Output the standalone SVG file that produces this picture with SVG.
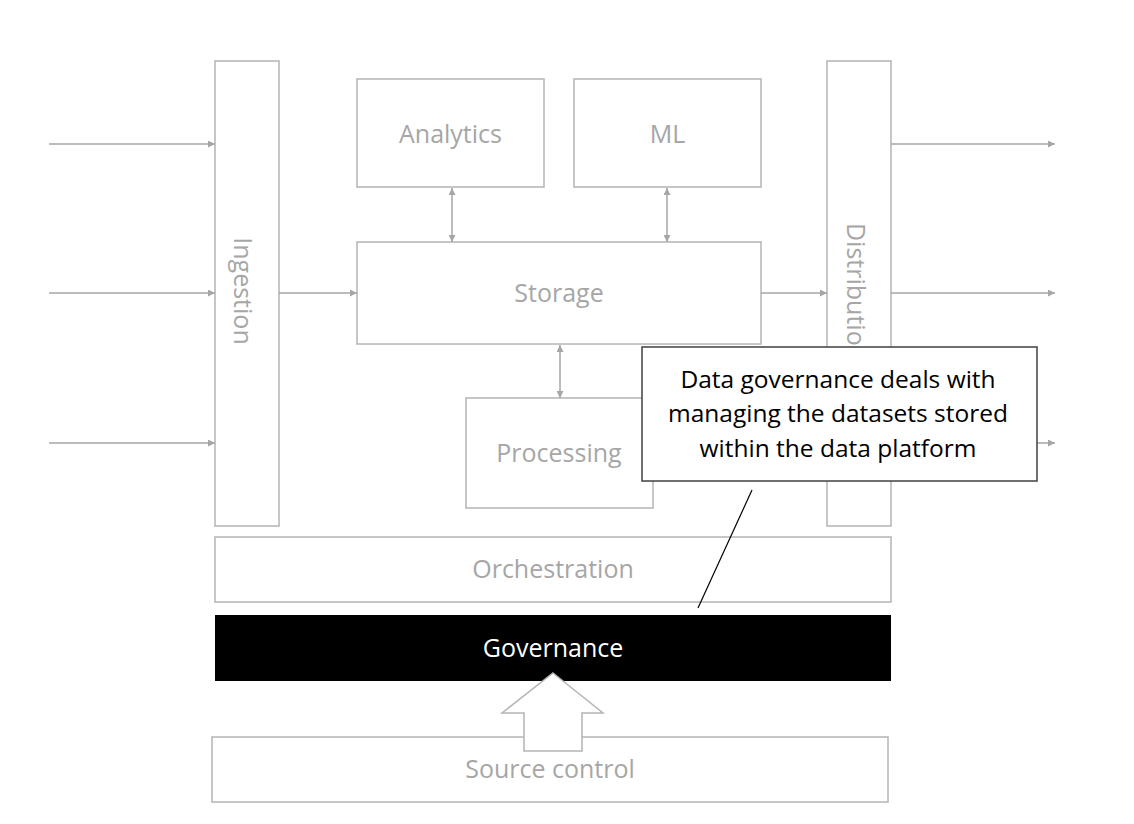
<svg xmlns="http://www.w3.org/2000/svg" width="1134" height="824" viewBox="0 0 1134 824">
<style>
.box{fill:#fff;stroke:#b4b4b4;stroke-width:1.5}
.lbl{font-family:"Open Sans","Liberation Sans",sans-serif;font-size:25px;fill:#a6a6a6;text-anchor:middle;dominant-baseline:central}
.ln{stroke:#a6a6a6;stroke-width:1.5;fill:none}
.note{font-family:"Open Sans","Liberation Sans",sans-serif;font-size:24.5px;fill:#000;text-anchor:middle}
</style>
<defs>
<marker id="ah" viewBox="0 0 10 10" refX="10" refY="5" markerWidth="7" markerHeight="7" markerUnits="userSpaceOnUse" orient="auto-start-reverse">
<path d="M0,0 L10,5 L0,10 z" fill="#a6a6a6"/>
</marker>
</defs>
<rect width="1134" height="824" fill="#fff"/>
<g id="ingestion"><rect class="box" x="215" y="61" width="64" height="465"/><text class="lbl" transform="translate(244,291) rotate(90)">Ingestion</text></g>
<g id="analytics"><rect class="box" x="357" y="79" width="187" height="108"/><text class="lbl" x="450.5" y="133">Analytics</text></g>
<g id="ml"><rect class="box" x="574" y="79" width="187" height="108"/><text class="lbl" x="667.5" y="133">ML</text></g>
<g id="storage"><rect class="box" x="357" y="242" width="404" height="102"/><text class="lbl" x="559" y="292">Storage</text></g>
<g id="processing"><rect class="box" x="466" y="398" width="187" height="110"/><text class="lbl" x="559" y="452">Processing</text></g>
<g id="distribution"><rect class="box" x="827" y="61" width="64" height="465"/><text class="lbl" transform="translate(857,292) rotate(90)">Distribution</text></g>
<g id="orchestration"><rect class="box" x="215" y="537" width="676" height="65"/><text class="lbl" x="553" y="568">Orchestration</text></g>
<g id="source-control"><rect class="box" x="212" y="737" width="676" height="65"/><text class="lbl" x="550" y="768">Source control</text></g>
<g id="governance"><rect x="215" y="615" width="676" height="66" fill="#000"/><text class="lbl" x="553" y="647" style="fill:#fff">Governance</text></g>
<g id="connectors">
<line class="ln" x1="49" y1="144" x2="215" y2="144" marker-end="url(#ah)"/>
<line class="ln" x1="49" y1="293" x2="215" y2="293" marker-end="url(#ah)"/>
<line class="ln" x1="49" y1="443" x2="215" y2="443" marker-end="url(#ah)"/>
<line class="ln" x1="279" y1="293" x2="357" y2="293" marker-end="url(#ah)"/>
<line class="ln" x1="761" y1="293" x2="827" y2="293" marker-end="url(#ah)"/>
<line class="ln" x1="891" y1="144" x2="1055" y2="144" marker-end="url(#ah)"/>
<line class="ln" x1="891" y1="293" x2="1055" y2="293" marker-end="url(#ah)"/>
<line class="ln" x1="891" y1="443" x2="1055" y2="443" marker-end="url(#ah)"/>
<line class="ln" x1="452" y1="188" x2="452" y2="242" marker-start="url(#ah)" marker-end="url(#ah)"/>
<line class="ln" x1="667" y1="188" x2="667" y2="242" marker-start="url(#ah)" marker-end="url(#ah)"/>
<line class="ln" x1="560" y1="345" x2="560" y2="398" marker-start="url(#ah)" marker-end="url(#ah)"/>
<path d="M553,673 L603,713 L582,713 L582,751 L524,751 L524,713 L502,713 Z" fill="#fff" stroke="#b4b4b4" stroke-width="1.5"/>
<line x1="752" y1="490" x2="698" y2="608" stroke="#000" stroke-width="1.2"/>
</g>
<g id="callout"><rect x="642" y="347" width="395" height="134" fill="#fff" stroke="#404040" stroke-width="1.5"/>
<text class="note" x="838" y="388">Data governance deals with</text>
<text class="note" x="838" y="422">managing the datasets stored</text>
<text class="note" x="838" y="457">within the data platform</text></g>
</svg>
